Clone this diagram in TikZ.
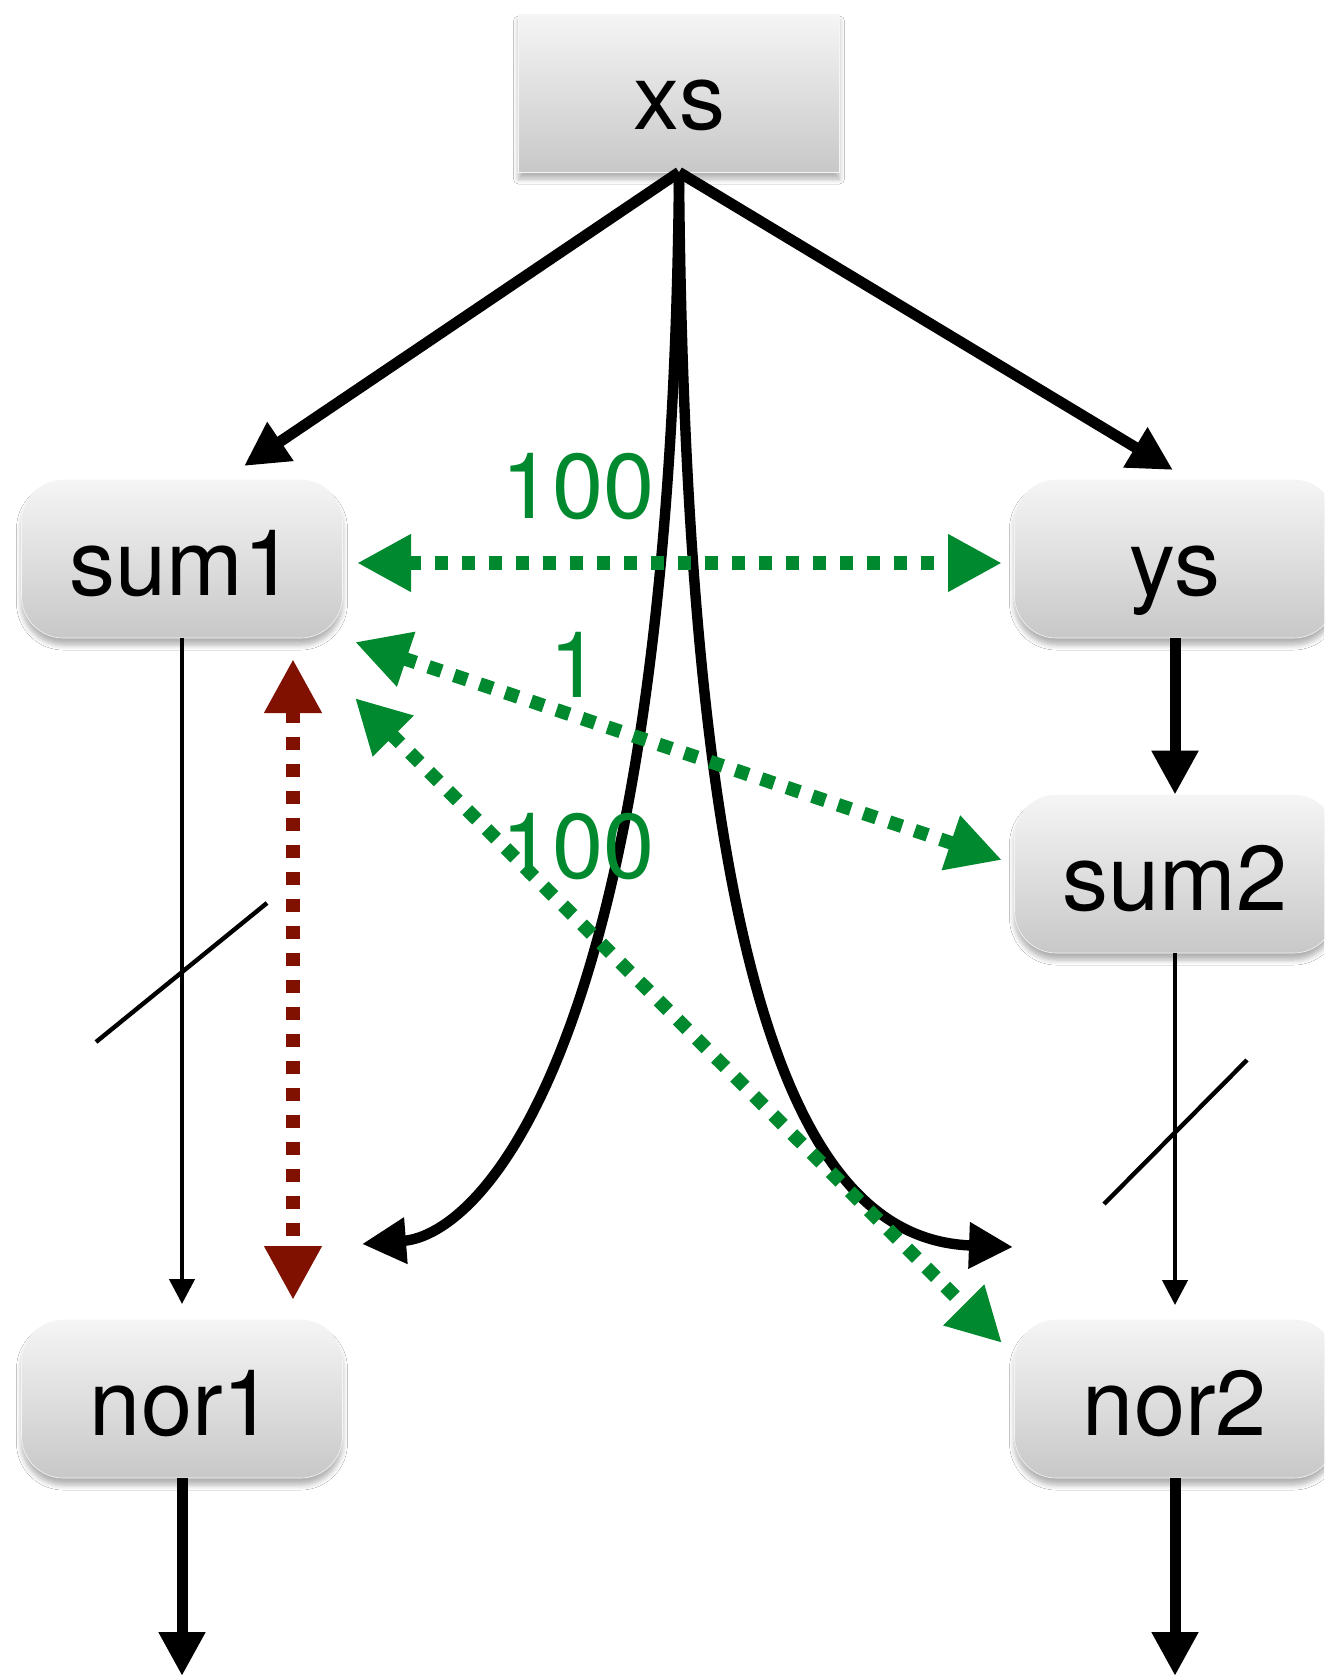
\documentclass[tikz,border=0pt]{standalone}
\usepackage{fontspec}
\setmainfont{TeX Gyre Heros}
\usetikzlibrary{arrows.meta,shadows.blur,calc}
\definecolor{dgreen}{RGB}{0,137,46}
\definecolor{dred}{RGB}{128,16,0}
\definecolor{boxtop}{RGB}{245,245,245}
\definecolor{boxbot}{RGB}{200,200,200}
\tikzset{
  boxbase/.style={top color=boxtop, bottom color=boxbot, draw=gray!8, line width=0.3pt,
    minimum width=160.5pt, minimum height=79pt, inner sep=0pt,
    text height=38pt, text depth=2pt,
    font=\fontsize{46}{55}\selectfont,
    blur shadow={shadow xshift=0pt, shadow yshift=-3.5pt, shadow blur radius=2.5pt,
      shadow blur steps=6, shadow opacity=30}},
  rbox/.style={boxbase, rounded corners=21pt},
  sbox/.style={boxbase},
  lbl/.style={text=dgreen, inner sep=0pt, anchor=base, font=\fontsize{46}{55}\selectfont},
  thickarr/.style={line width=5.5pt, -{Triangle[length=22pt,width=22pt]}},
  curvearr/.style={line width=5.2pt, -{Triangle[length=22pt,width=22pt]}},
  thinarr/.style={line width=2.2pt, -{Triangle[length=12.5pt,width=12.5pt]}},
  slash/.style={line width=2.2pt},
  gdot/.style={dgreen, line width=6.8pt, dash pattern=on 6.8pt off 6.7pt,
    {Triangle[length=27pt,width=27pt]}-{Triangle[length=27pt,width=27pt]}},
  rdot/.style={dred, line width=6.8pt, dash pattern=on 6.8pt off 6.7pt,
    {Triangle[length=27pt,width=27pt]}-{Triangle[length=27pt,width=27pt]}}
}
\begin{document}
\begin{tikzpicture}[x=0.5pt,y=-0.5pt]
\clip (0,0) rectangle (1324,1676);
\fill[white] (0,0) rectangle (1324,1676);

% nodes
\node[sbox] (xs) at (679,93) {xs};
\node[rbox] (sum1) at (182,559) {sum1};
\node[rbox] (ys) at (1175,559) {ys};
\node[rbox] (sum2) at (1175,874) {sum2};
\node[rbox] (nor1) at (182,1399) {nor1};
\node[rbox] (nor2) at (1175,1399) {nor2};

% free ends
\coordinate (t1) at (244,466);
\coordinate (t2) at (1173,470);
\coordinate (n1tip) at (362,1244);
\coordinate (n2tip) at (1013,1247);
\coordinate (nor1out) at (182,1676);
\coordinate (nor2out) at (1175,1676);
\coordinate (s1a) at (96,1042);
\coordinate (s1b) at (267,903);
\coordinate (s2a) at (1104,1204);
\coordinate (s2b) at (1247,1060);
\coordinate (ga) at (357,563);
\coordinate (gb) at (1002,563);
\coordinate (gc) at (355,642);
\coordinate (gd) at (1002,860);
\coordinate (ge) at (355,698);
\coordinate (gf) at (1002,1343);
\coordinate (ra) at (293,659);
\coordinate (rb) at (293,1300);

% black connectors
\draw[thickarr] (xs.south) -- (t1);
\draw[thickarr] (xs.south) -- (t2);
\draw[curvearr] (xs.south) .. controls (672,1050) and (480,1235) .. (n1tip);
\draw[curvearr] (xs.south) .. controls (686,1050) and (820,1240) .. (n2tip);
\draw[thickarr] (ys.south) -- (sum2.north);
\draw[thinarr] (sum1.south) -- (182,1304);
\draw[thinarr] (sum2.south) -- (1175,1305);
\draw[slash] (s1a) -- (s1b);
\draw[slash] (s2a) -- (s2b);
\draw[thickarr] (nor1.south) -- (nor1out);
\draw[thickarr] (nor2.south) -- (nor2out);

% dotted connectors
\draw[gdot] (ga) -- (gb);
\draw[gdot] (gc) -- (gd);
\draw[gdot] (ge) -- (gf);
\draw[rdot] (ra) -- (rb);

% labels
\node[lbl] (l1) at (578,518) {100};
\node[lbl] (l2) at (575,697) {1};
\node[lbl] (l3) at (578,878) {100};
\end{tikzpicture}
\end{document}
